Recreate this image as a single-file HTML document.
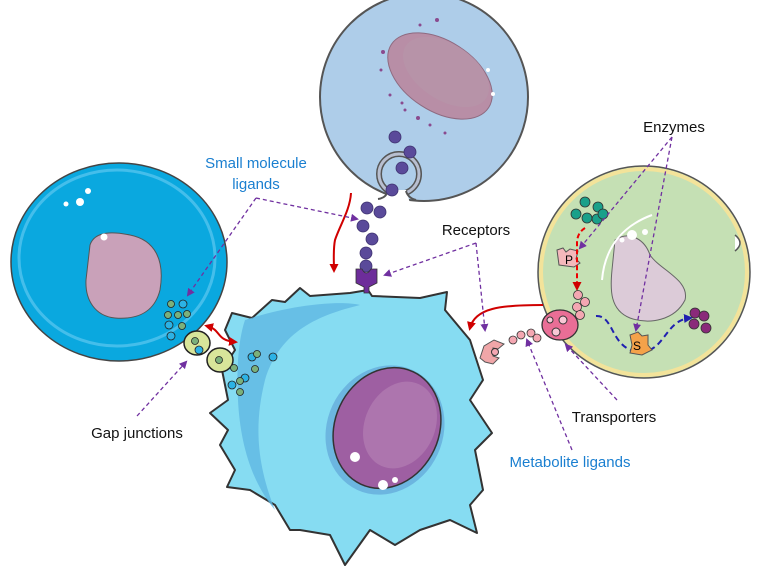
<!DOCTYPE html>
<html><head><meta charset="utf-8"><style>
html,body{margin:0;padding:0;background:#fff;width:778px;height:586px;overflow:hidden}
svg{display:block}
text{font-family:"Liberation Sans",sans-serif;font-size:15px}
</style></head><body>
<svg width="778" height="586" viewBox="0 0 778 586" xmlns="http://www.w3.org/2000/svg">
<defs>
<marker id="pa" markerWidth="8" markerHeight="8" refX="6" refY="4" orient="auto" markerUnits="userSpaceOnUse"><path d="M0,0 L8,4 L0,8 Z" fill="#7030a0"/></marker>
<marker id="ra" markerWidth="9" markerHeight="9" refX="6" refY="4.5" orient="auto" markerUnits="userSpaceOnUse"><path d="M0,0 L9,4.5 L0,9 Z" fill="#d00000"/></marker>
<marker id="ra2" markerWidth="9" markerHeight="9" refX="3" refY="4.5" orient="auto" markerUnits="userSpaceOnUse"><path d="M9,0 L0,4.5 L9,9 Z" fill="#d00000"/></marker>
<marker id="ba" markerWidth="9" markerHeight="9" refX="6" refY="4.5" orient="auto" markerUnits="userSpaceOnUse"><path d="M0,0 L9,4.5 L0,9 Z" fill="#2020b0"/></marker>
</defs>

<!-- top cell -->
<circle cx="424" cy="97" r="104" fill="#aecde9" stroke="#555" stroke-width="2"/>
<circle cx="399" cy="174" r="20" fill="none" stroke="#555" stroke-width="6"/>
<circle cx="399" cy="174" r="20" fill="none" stroke="#b8bfd0" stroke-width="3"/>
<path d="M388,190 L384,203 L410,203 L406,190 Z" fill="#fff"/>
<path d="M388,191 Q386,198 378,199" fill="none" stroke="#555" stroke-width="2"/>
<path d="M406,191 Q408,198 416,200" fill="none" stroke="#555" stroke-width="2"/>
<ellipse cx="440" cy="76" rx="58" ry="35" transform="rotate(33 440 76)" fill="#b88ea6" stroke="#8e6a80" stroke-width="1"/>
<ellipse cx="446" cy="72" rx="48" ry="28" transform="rotate(33 446 72)" fill="#b793a8"/>
<circle cx="488" cy="70" r="2" fill="#fff"/><circle cx="493" cy="94" r="2" fill="#fff"/>
<g fill="#8a4a8e">
<circle cx="383" cy="52" r="2"/><circle cx="381" cy="70" r="1.5"/><circle cx="390" cy="95" r="1.5"/><circle cx="405" cy="110" r="1.5"/><circle cx="418" cy="118" r="2"/><circle cx="430" cy="125" r="1.5"/><circle cx="445" cy="133" r="1.5"/><circle cx="420" cy="25" r="1.5"/><circle cx="437" cy="20" r="2"/><circle cx="402" cy="103" r="1.5"/>
</g>
<g fill="#5a4a9a" stroke="#3e3270" stroke-width="0.8">
<circle cx="395" cy="137" r="6"/><circle cx="410" cy="152" r="6"/><circle cx="402" cy="168" r="6"/><circle cx="392" cy="190" r="6"/>
<circle cx="367" cy="208" r="6"/><circle cx="380" cy="212" r="6"/><circle cx="363" cy="226" r="6"/><circle cx="372" cy="239" r="6"/><circle cx="366" cy="253" r="6"/><circle cx="366" cy="266" r="6"/>
</g>

<!-- left cell -->
<ellipse cx="119" cy="262" rx="108" ry="99" fill="#0aa8df" stroke="#444" stroke-width="1.5"/>
<ellipse cx="117" cy="258" rx="98" ry="88" fill="none" stroke="#5cc8ef" stroke-width="3" opacity=".7"/>
<path d="M90,245 C95,230 115,232 130,235 C155,240 165,260 160,290 C155,310 140,320 115,318 C95,316 85,300 86,280 Z" fill="#c9a1b9" stroke="#555" stroke-width="1"/>
<circle cx="80" cy="202" r="4" fill="#fff"/><circle cx="88" cy="191" r="3" fill="#fff"/><circle cx="66" cy="204" r="2.5" fill="#fff"/><circle cx="104" cy="237" r="3.5" fill="#fff"/>

<!-- right cell -->
<circle cx="644" cy="272" r="106" fill="#c5e0b4" stroke="#555" stroke-width="1.5"/>
<circle cx="644" cy="272" r="103" fill="none" stroke="#f3e39a" stroke-width="4"/>
<path d="M735,235 q10,8 0,16" fill="#fff" stroke="#555" stroke-width="1.5"/>
<path d="M615,240 C630,230 645,240 650,255 C660,270 690,280 685,300 C675,320 650,325 630,318 C610,310 610,290 612,270 Z" fill="#dccbd8" stroke="#666" stroke-width="1"/>
<path d="M602,280 C605,245 625,225 652,215" fill="none" stroke="#fff" stroke-width="2"/>
<circle cx="632" cy="235" r="5" fill="#fff"/><circle cx="645" cy="232" r="3" fill="#fff"/><circle cx="622" cy="240" r="2.5" fill="#fff"/>
<g fill="#1aa08a" stroke="#333" stroke-width="0.8">
<circle cx="585" cy="202" r="5"/><circle cx="598" cy="207" r="5"/><circle cx="576" cy="214" r="5"/><circle cx="587" cy="218" r="5"/><circle cx="597" cy="219" r="5"/><circle cx="603" cy="214" r="5"/>
</g>
<path d="M557,250 l6,-2 l3,4 l4,-3 l8,2 l-2,8 l4,4 l-6,4 l-15,-2 z" fill="#f4b8bb" stroke="#555" stroke-width="1"/>
<text x="565" y="264" style="font-size:12px">P</text>
<path d="M585,228 q-8,5 -8,15 l0,45" fill="none" stroke="#e00" stroke-width="2" stroke-dasharray="5,3" marker-end="url(#ra)"/>
<g fill="#f4a7b2" stroke="#333" stroke-width="0.8">
<circle cx="578" cy="295" r="4.5"/><circle cx="585" cy="302" r="4.5"/><circle cx="577" cy="307" r="4.5"/><circle cx="580" cy="315" r="4.5"/>
<circle cx="521" cy="335" r="4"/><circle cx="513" cy="340" r="4"/><circle cx="531" cy="333" r="4"/><circle cx="537" cy="338" r="4"/>
</g>
<ellipse cx="560" cy="325" rx="18" ry="15" fill="#e96e96" stroke="#333" stroke-width="1.3"/>
<circle cx="556" cy="332" r="4" fill="#f8c8d6" stroke="#333"/><circle cx="563" cy="320" r="4" fill="#f8c8d6" stroke="#333"/><circle cx="550" cy="320" r="3" fill="#f8c8d6" stroke="#333"/>
<path d="M596,316 C615,315 610,350 640,352 C665,352 665,320 690,318" fill="none" stroke="#2020b0" stroke-width="2" stroke-dasharray="6,4" marker-end="url(#ba)"/>
<path d="M630,335 l8,-3 l4,4 l6,-1 l0,10 l4,5 l-10,5 l-12,-2 l2,-8 z" fill="#f4a24a" stroke="#555" stroke-width="1"/>
<text x="633" y="350" style="font-size:12px">S</text>
<g fill="#8a2a7a" stroke="#333" stroke-width="0.8">
<circle cx="695" cy="313" r="5"/><circle cx="704" cy="316" r="5"/><circle cx="694" cy="324" r="5"/><circle cx="706" cy="328" r="5"/>
</g>

<!-- main cell -->
<path d="M232,313 L252,318 L272,300 L285,302 L300,288 L310,296 L350,293 L368,290 L372,296 L420,298 L447,292 L445,310 L470,340 L483,380 L470,400 L492,433 L475,450 L483,490 L470,505 L477,533 L450,520 L420,530 L395,545 L370,530 L345,565 L330,535 L300,530 L290,530 L275,505 L250,490 L227,487 L235,470 L220,445 L228,430 L210,413 L228,400 L222,370 L235,350 L225,330 Z" fill="#86dcf2" stroke="#333" stroke-width="2" stroke-linejoin="round"/>
<path d="M245,320 C290,305 340,300 360,305 C320,315 280,330 265,380 C255,420 255,460 275,510 C250,480 240,440 238,400 C236,360 240,335 245,320 Z" fill="#5fb8e2" opacity=".8"/>
<ellipse cx="385" cy="430" rx="58" ry="66" transform="rotate(25 385 430)" fill="#6cb6e0"/>
<ellipse cx="387" cy="428" rx="52" ry="62" transform="rotate(25 387 428)" fill="#9e5fa2" stroke="#333" stroke-width="1.5"/>
<ellipse cx="400" cy="425" rx="35" ry="45" transform="rotate(25 400 425)" fill="#b783b6" opacity=".6"/>
<circle cx="355" cy="457" r="5" fill="#fff"/><circle cx="383" cy="485" r="5" fill="#fff"/><circle cx="395" cy="480" r="3" fill="#fff"/>
<path d="M356,283 l0,-14 l6,0 q4,8 9,0 l6,0 l0,14 l-8,4 l0,6 l-5,0 l0,-6 z" fill="#6d2d9a" stroke="#333" stroke-width="0.8"/>
<path d="M480,358 l4,-12 l10,-6 l10,4 l-6,5 l-5,-1 l0,8 l6,2 l-6,6 l-8,-2 z" fill="#f0a6a8" stroke="#555" stroke-width="1"/>
<circle cx="495" cy="352" r="3.5" fill="#f4a7b2" stroke="#333"/>

<!-- gap junction -->
<ellipse cx="197" cy="343" rx="13" ry="12" fill="#d8e59a" stroke="#222" stroke-width="1.5"/>
<ellipse cx="220" cy="360" rx="13" ry="12" fill="#d8e59a" stroke="#222" stroke-width="1.5"/>
<g stroke="#222" stroke-width="0.8">
<circle cx="183" cy="304" r="4" fill="#2cb2e5"/><circle cx="171" cy="304" r="3.5" fill="#7bb07b"/><circle cx="168" cy="315" r="3.5" fill="#7bb07b"/><circle cx="178" cy="315" r="3.5" fill="#7bb07b"/><circle cx="187" cy="314" r="3.5" fill="#7bb07b"/><circle cx="169" cy="325" r="4" fill="#2cb2e5"/><circle cx="182" cy="326" r="3.5" fill="#7bb07b"/><circle cx="171" cy="336" r="4" fill="#2cb2e5"/>
<circle cx="195" cy="341" r="3.5" fill="#7bb07b"/><circle cx="199" cy="350" r="4" fill="#2cb2e5"/><circle cx="219" cy="360" r="3.5" fill="#7bb07b"/><circle cx="234" cy="368" r="3.5" fill="#7bb07b"/>
<circle cx="252" cy="357" r="4" fill="#2cb2e5"/><circle cx="257" cy="354" r="3.5" fill="#7bb07b"/><circle cx="273" cy="357" r="4" fill="#2cb2e5"/><circle cx="255" cy="369" r="3.5" fill="#7bb07b"/><circle cx="245" cy="378" r="4" fill="#2cb2e5"/><circle cx="240" cy="381" r="3.5" fill="#7bb07b"/><circle cx="232" cy="385" r="4" fill="#2cb2e5"/><circle cx="240" cy="392" r="3.5" fill="#7bb07b"/>
</g>

<!-- red arrows -->
<path d="M351,193 C350,210 340,225 335,240 C333,250 334,262 334,270" fill="none" stroke="#d00000" stroke-width="2" marker-end="url(#ra)"/>
<path d="M543,305 C500,305 475,308 470,328" fill="none" stroke="#d00000" stroke-width="2" marker-end="url(#ra)"/>
<path d="M207,326 C222,330 215,340 235,342" fill="none" stroke="#d00000" stroke-width="2" marker-start="url(#ra2)" marker-end="url(#ra)"/>

<!-- purple dashed -->
<g fill="none" stroke="#7030a0" stroke-width="1.3" stroke-dasharray="4,3">
<path d="M256,198 L188,295" marker-end="url(#pa)"/>
<path d="M256,198 L357,219" marker-end="url(#pa)"/>
<path d="M476,243 L385,275" marker-end="url(#pa)"/>
<path d="M476,243 L485,330" marker-end="url(#pa)"/>
<path d="M672,137 L580,248" marker-end="url(#pa)"/>
<path d="M672,137 L636,330" marker-end="url(#pa)"/>
<path d="M137,416 L186,362" marker-end="url(#pa)"/>
<path d="M617,400 L566,345" marker-end="url(#pa)"/>
<path d="M572,450 L527,340" marker-end="url(#pa)"/>
</g>

<!-- labels -->
<text x="256" y="168" text-anchor="middle" fill="#1a7fd0">Small molecule</text>
<text x="256" y="189" text-anchor="middle" fill="#1a7fd0">ligands</text>
<text x="476" y="235" text-anchor="middle" fill="#111">Receptors</text>
<text x="674" y="132" text-anchor="middle" fill="#111">Enzymes</text>
<text x="137" y="438" text-anchor="middle" fill="#111">Gap junctions</text>
<text x="614" y="422" text-anchor="middle" fill="#111">Transporters</text>
<text x="570" y="467" text-anchor="middle" fill="#1a7fd0">Metabolite ligands</text>
</svg>
</body></html>
